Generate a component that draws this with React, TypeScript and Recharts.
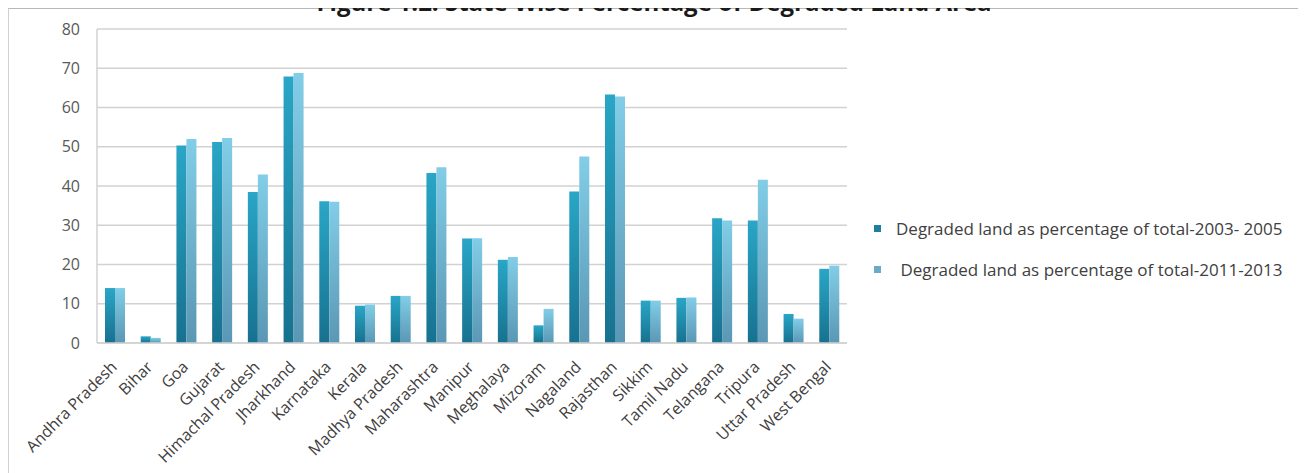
import React from "react";
import { BarChart, Bar, XAxis, YAxis, CartesianGrid, Legend } from "recharts";

// States shown on the category axis
const states = [
  "Andhra Pradesh", "Bihar", "Goa", "Gujarat", "Himachal Pradesh", "Jharkhand",
  "Karnataka", "Kerala", "Madhya Pradesh", "Maharashtra", "Manipur", "Meghalaya",
  "Mizoram", "Nagaland", "Rajasthan", "Sikkim", "Tamil Nadu", "Telangana",
  "Tripura", "Uttar Pradesh", "West Bengal",
];

// Degraded land as % of total geographic area, 2003-05
const degraded2003 = [
  14.0, 1.7, 50.3, 51.2, 38.5, 67.9, 36.1, 9.5, 12.0, 43.3, 26.6, 21.2,
  4.5, 38.6, 63.3, 10.8, 11.5, 31.8, 31.2, 7.4, 18.9,
];

// Degraded land as % of total geographic area, 2011-13
const degraded2011 = [
  14.0, 1.3, 52.0, 52.2, 42.9, 68.8, 36.0, 9.8, 12.0, 44.8, 26.7, 21.9,
  8.7, 47.5, 62.8, 10.8, 11.6, 31.2, 41.6, 6.2, 19.7,
];

const yTicks = [0, 10, 20, 30, 40, 50, 60, 70, 80];

const seriesNames = [
  "Degraded land as percentage of total-2003- 2005",
  " Degraded land as percentage of total-2011-2013",
];

const data = states.map((state, i) => ({
  state,
  d2003: degraded2003[i],
  d2011: degraded2011[i],
}));

const FONT = "'Open Sans', 'Liberation Sans', sans-serif";

const XTick = (props: any) => {
  const { x, y, payload } = props;
  return (
    <text
      transform={`translate(${x + 3}, ${y + 23}) rotate(-45)`}
      textAnchor="end"
      fill="#404040"
      fontSize={16}
      fontFamily={FONT}
    >
      {payload.value}
    </text>
  );
};

const LegendBox = () => {
  const items = [
    { name: seriesNames[0], color: "#1f7f9f" },
    { name: seriesNames[1], color: "#6aabc7" },
  ];
  return (
    <div style={{ fontFamily: FONT, fontSize: 17, color: "#404040" }}>
      {items.map((it, i) => (
        <div
          key={i}
          style={{ display: "flex", alignItems: "center", height: 22, marginBottom: i === 0 ? 19 : 0 }}
        >
          <span style={{ width: 7, height: 7, background: it.color, marginRight: 15, flex: "none" }} />
          <span style={{ whiteSpace: "pre" }}>{it.name}</span>
        </div>
      ))}
    </div>
  );
};

export default function App() {
  return (
    <div style={{ position: "relative", width: 1292, height: 465 }}>
      <style>{`html,body{overflow:hidden}`}</style>
      <div
        style={{
          position: "absolute",
          left: 0,
          top: 0,
          width: 1292,
          height: 480,
          boxSizing: "border-box",
          borderTop: "1px solid #b8b8b8",
          borderLeft: "1px solid #d0d0d0",
          borderRight: "1px solid #e4e4e4",
        }}
      />
      <div
        style={{
          position: "absolute",
          left: 0,
          width: 1292,
          top: -20.5,
          textAlign: "center",
          fontFamily: FONT,
          fontWeight: 700,
          fontSize: 24,
          lineHeight: "28px",
          color: "#1a1a1a",
        }}
      >
        Figure 1.2: State Wise Percentage of Degraded Land Area
      </div>
      <BarChart
        width={1292}
        height={465}
        data={data}
        margin={{ top: 21, right: 453, bottom: 0, left: 29 }}
        barGap={0}
        style={{ position: "absolute", left: 0, top: 0 }}
      >
        <defs>
          <linearGradient id="gDark" x1="0" y1="0" x2="0" y2="1">
            <stop offset="0%" stopColor="#2aa6c6" />
            <stop offset="100%" stopColor="#17718f" />
          </linearGradient>
          <linearGradient id="gLight" x1="0" y1="0" x2="0" y2="1">
            <stop offset="0%" stopColor="#82cde7" />
            <stop offset="100%" stopColor="#5a97b4" />
          </linearGradient>
        </defs>
        <CartesianGrid vertical={false} stroke="#d2d2d2" strokeWidth={1.5} />
        <XAxis
          dataKey="state"
          interval={0}
          height={130}
          tickLine={false}
          tickSize={0}
          axisLine={{ stroke: "#d2d2d2", strokeWidth: 1.5 }}
          tick={<XTick />}
        />
        <YAxis
          width={60}
          domain={[0, 80]}
          ticks={yTicks}
          tickLine={false}
          tickSize={8}
          tickMargin={9}
          axisLine={{ stroke: "#d2d2d2", strokeWidth: 1.5 }}
          tick={{ fill: "#595959", fontSize: 16, fontFamily: FONT }}
        />
        <Legend
          layout="vertical"
          align="center"
          verticalAlign="middle"
          content={<LegendBox />}
          wrapperStyle={{ left: 866, top: 209, width: 430 }}
        />
        <Bar dataKey="d2003" name={seriesNames[0]} fill="url(#gDark)" barSize={10} isAnimationActive={false} />
        <Bar dataKey="d2011" name={seriesNames[1]} fill="url(#gLight)" barSize={10} isAnimationActive={false} />
      </BarChart>
    </div>
  );
}
